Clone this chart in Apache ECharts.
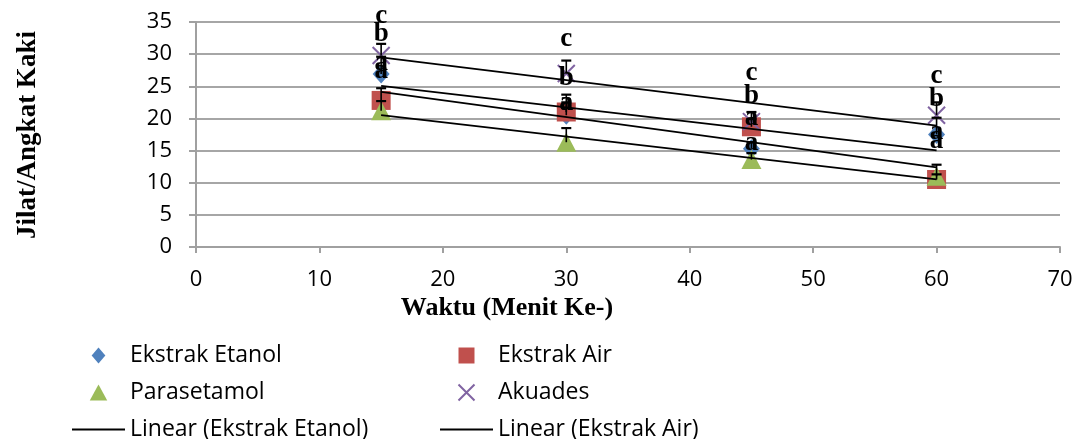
<!DOCTYPE html>
<html>
<head>
<meta charset="utf-8">
<script src="https://cdn.jsdelivr.net/npm/echarts@6/dist/echarts.min.js"></script>
<style>
  html, body { margin: 0; padding: 0; background: #ffffff; }
  #chart { width: 1079px; height: 439px; }
</style>
</head>
<body>
<div id="chart"></div>
<script>
// Observation times (minute)
const times = [15, 30, 45, 60];

// Mean licks / paw lifts per group
const etanol = [26.9, 20.5, 15.3, 17.5];
const air = [22.8, 21.0, 18.7, 10.5];
const parasetamol = [21.2, 16.3, 13.6, 11.0];
const akuades = [29.8, 27.0, 19.5, 20.5];

// Standard deviations (drawn as plus-direction error bars)
const etanolSD = [2.7, 2.0, 1.0, 2.6];
const airSD = [1.9, 2.7, 1.2, 0.8];
const parasetamolSD = [1.5, 2.2, 1.0, 1.8];
const akuadesSD = [1.8, 2.0, 1.5, 2.0];

// Significance letters shown at each time
const etanolLetters = ['a', 'a', 'a', 'a'];
const parasetamolLetters = ['a', 'a', 'a', 'a'];
const airLetters = ['b', 'b', 'b', 'b'];
const akuadesLetters = ['c', 'c', 'c', 'c'];

// Axis ticks
const xTicks = [0, 10, 20, 30, 40, 50, 60, 70];
const yTicks = [0, 5, 10, 15, 20, 25, 30, 35];

// Vertical placement of each letter's baseline, in px from its point
const letterShift = {
  etanol: [-2, -3, 3, 7],
  parasetamol: [-31, -30, -33, -26],
  air: [-57, -25, -22, -71],
  akuades: [-30, -25, -40, -30]
};

const COLORS = {
  etanol: '#4F81BD',
  air: '#C0504D',
  parasetamol: '#9BBB59',
  akuades: '#8064A2'
};

// Marker outlines (paths keep their aspect inside the legend box)
const X_MARK = 'path://M0,0L10,10M10,0L0,10';
const DIAMOND_ICON = 'path://M6,0L12,7L6,14L0,7Z';
const SQUARE_ICON = 'path://M0,0H10V10H0Z';
const TRIANGLE_ICON = 'path://M6,0L12,11L0,11Z';
const LINE_ICON = 'path://M0,0H53V2H0Z';

function linearTrend(xs, ys) {
  const n = xs.length;
  const mx = xs.reduce((s, v) => s + v, 0) / n;
  const my = ys.reduce((s, v) => s + v, 0) / n;
  let sxy = 0, sxx = 0;
  for (let i = 0; i < n; i++) {
    sxy += (xs[i] - mx) * (ys[i] - my);
    sxx += (xs[i] - mx) * (xs[i] - mx);
  }
  const b = sxy / sxx;
  const a = my - b * mx;
  const x0 = Math.min(...xs), x1 = Math.max(...xs);
  return [[x0, a + b * x0], [x1, a + b * x1]];
}

function pairs(ys) {
  return times.map((t, i) => [t, ys[i]]);
}

function scatter(name, ys, symbol, size, color, z, extraStyle) {
  return {
    name: name,
    type: 'scatter',
    data: pairs(ys),
    symbol: symbol,
    symbolSize: size,
    symbolKeepAspect: true,
    itemStyle: Object.assign({ color: color, opacity: 1 }, extraStyle || {}),
    z: z,
    silent: true
  };
}

function trend(name, ys) {
  return {
    name: name,
    type: 'line',
    data: linearTrend(times, ys),
    symbol: 'none',
    lineStyle: { color: '#000000', width: 1.8 },
    itemStyle: { color: '#000000' },
    z: 6,
    silent: true
  };
}

// Plus-direction error bar with a cap at the top
function errorBars(name, ys, sds) {
  return {
    name: name,
    type: 'custom',
    data: times.map((t, i) => [t, ys[i], ys[i] + sds[i]]),
    encode: { x: 0, y: [1, 2] },
    renderItem: function (params, api) {
      const x = api.value(0);
      const base = api.coord([x, api.value(1)]);
      const hi = api.coord([x, api.value(2)]);
      const hw = 5;
      return {
        type: 'group',
        children: [
          { type: 'line', shape: { x1: hi[0], y1: hi[1], x2: base[0], y2: base[1] }, style: { stroke: '#000', lineWidth: 1.6 } },
          { type: 'line', shape: { x1: hi[0] - hw, y1: hi[1], x2: hi[0] + hw, y2: hi[1] }, style: { stroke: '#000', lineWidth: 2.2 } }
        ]
      };
    },
    z: 5,
    silent: true
  };
}

function letters(name, ys, texts, shifts) {
  return {
    name: name,
    type: 'custom',
    data: times.map((t, i) => [t, ys[i]]),
    encode: { x: 0, y: 1 },
    renderItem: function (params, api) {
      const i = params.dataIndex;
      const p = api.coord([api.value(0), api.value(1)]);
      return {
        type: 'text',
        x: p[0],
        y: p[1] + shifts[i] - 9,
        style: {
          text: texts[i],
          font: 'bold 27px "Liberation Serif"',
          fill: '#000000',
          align: 'center',
          verticalAlign: 'middle'
        }
      };
    },
    z: 10,
    silent: true
  };
}

const chart = echarts.init(document.getElementById('chart'), null, { renderer: 'canvas' });

const legendText = { fontFamily: 'Open Sans', fontSize: 23, color: '#000000' };
const legendBase = {
  top: 344, orient: 'vertical', padding: 0,
  itemWidth: 53, itemHeight: 16, itemGap: 14,
  symbolKeepAspect: true,
  selectedMode: false,
  textStyle: legendText,
  height: 120
};

chart.setOption({
  animation: false,
  backgroundColor: '#ffffff',
  grid: { left: 196, right: 19, top: 22, bottom: 192, containLabel: false },
  xAxis: {
    type: 'value',
    min: xTicks[0],
    max: xTicks[xTicks.length - 1],
    interval: 10,
    axisLine: { show: true, lineStyle: { color: '#a0a0a0', width: 2 } },
    axisTick: { show: true, length: 6, lineStyle: { color: '#a0a0a0', width: 2 } },
    axisLabel: { color: '#000000', fontFamily: 'Open Sans', fontSize: 22, margin: 22 },
    splitLine: { show: false }
  },
  yAxis: {
    type: 'value',
    min: yTicks[0],
    max: yTicks[yTicks.length - 1],
    interval: 5,
    axisLine: { show: true, lineStyle: { color: '#a0a0a0', width: 2 } },
    axisTick: { show: true, length: 7, lineStyle: { color: '#a0a0a0', width: 2 } },
    axisLabel: { color: '#000000', fontFamily: 'Open Sans', fontSize: 22, margin: 24 },
    splitLine: { show: true, lineStyle: { color: '#a6a6a6', width: 2 } }
  },
  legend: [
    Object.assign({}, legendBase, {
      left: 72,
      data: [
        { name: 'Ekstrak Etanol', icon: DIAMOND_ICON },
        { name: 'Parasetamol', icon: TRIANGLE_ICON },
        { name: 'Linear (Ekstrak Etanol)', icon: LINE_ICON }
      ]
    }),
    Object.assign({}, legendBase, {
      left: 440,
      data: [
        { name: 'Ekstrak Air', icon: SQUARE_ICON },
        { name: 'Akuades', icon: X_MARK },
        { name: 'Linear (Ekstrak Air)', icon: LINE_ICON }
      ]
    })
  ],
  graphic: [
    {
      type: 'text', x: 28, y: 135, rotation: Math.PI / 2,
      style: {
        text: 'Jilat/Angkat Kaki', font: 'bold 27px "Liberation Serif"',
        fill: '#000000', align: 'center', verticalAlign: 'middle'
      }
    },
    {
      type: 'text', x: 507, y: 308,
      style: {
        text: 'Waktu (Menit Ke-)', font: 'bold 26px "Liberation Serif"',
        fill: '#000000', align: 'center', verticalAlign: 'middle'
      }
    }
  ],
  series: [
    scatter('Ekstrak Etanol', etanol, 'diamond', [17, 19], COLORS.etanol, 2),
    errorBars('SD Ekstrak Etanol', etanol, etanolSD),
    scatter('Ekstrak Air', air, 'rect', 19, COLORS.air, 3),
    errorBars('SD Ekstrak Air', air, airSD),
    scatter('Parasetamol', parasetamol, 'triangle', [20, 19], COLORS.parasetamol, 4),
    errorBars('SD Parasetamol', parasetamol, parasetamolSD),
    scatter('Akuades', akuades, X_MARK, 17, 'rgba(0,0,0,0)', 4,
      { borderColor: COLORS.akuades, borderWidth: 2 }),
    errorBars('SD Akuades', akuades, akuadesSD),
    trend('Linear (Ekstrak Etanol)', etanol),
    trend('Linear (Ekstrak Air)', air),
    trend('Linear (Parasetamol)', parasetamol),
    trend('Linear (Akuades)', akuades),
    letters('Huruf Ekstrak Etanol', etanol, etanolLetters, letterShift.etanol),
    letters('Huruf Parasetamol', parasetamol, parasetamolLetters, letterShift.parasetamol),
    letters('Huruf Ekstrak Air', air, airLetters, letterShift.air),
    letters('Huruf Akuades', akuades, akuadesLetters, letterShift.akuades)
  ]
});
</script>
</body>
</html>
